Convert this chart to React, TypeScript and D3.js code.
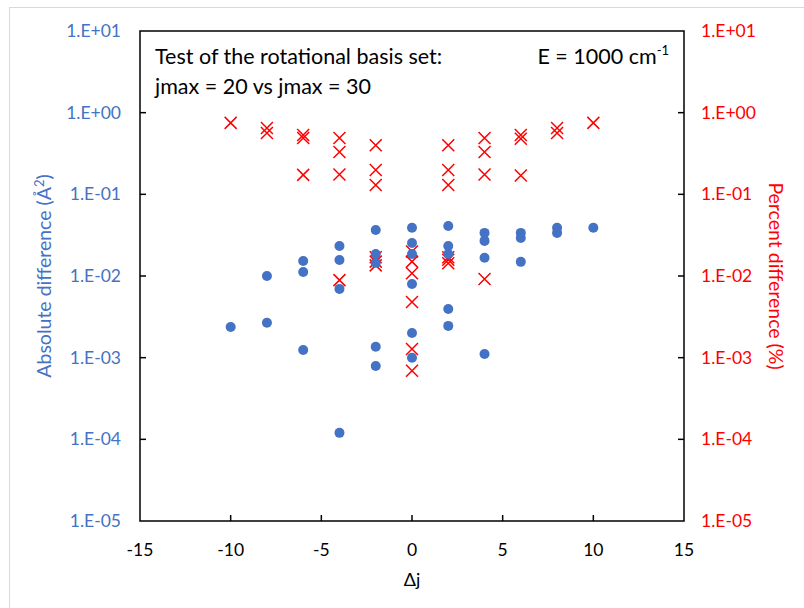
import React from 'react';
import * as d3 from 'd3';

// absolute difference (Å²) vs Δj
const absDj = [-10, -8, -8, -6, -6, -6, -4, -4, -4, -4, -2, -2, -2, -2, -2, 0, 0, 0, 0, 0, 0, 2, 2, 2, 2, 2, 4, 4, 4, 4, 6, 6, 6, 8, 8, 10];
const absValues = [2.38e-3, 1.0e-2, 2.67e-3, 1.53e-2, 1.12e-2, 1.24e-3, 2.33e-2, 1.57e-2, 6.95e-3, 1.2e-4, 3.66e-2, 1.86e-2, 1.45e-2, 1.36e-3, 7.9e-4, 3.9e-2, 2.54e-2, 1.86e-2, 8.0e-3, 2.0e-3, 1.0e-3, 4.1e-2, 2.33e-2, 1.86e-2, 3.95e-3, 2.45e-3, 3.37e-2, 2.69e-2, 1.67e-2, 1.11e-3, 3.37e-2, 2.92e-2, 1.49e-2, 3.9e-2, 3.37e-2, 3.9e-2];

// percent difference (%) vs Δj
const pctDj = [-10, -8, -8, -6, -6, -6, -4, -4, -4, -4, -2, -2, -2, -2, -2, -2, 0, 0, 0, 0, 0, 0, 2, 2, 2, 2, 2, 2, 4, 4, 4, 4, 6, 6, 6, 8, 8, 10];
const pctValues = [0.75, 0.65, 0.565, 0.533, 0.49, 0.173, 0.49, 0.33, 0.175, 8.9e-3, 0.4, 0.199, 0.13, 1.7e-2, 1.5e-2, 1.35e-2, 2.0e-2, 1.5e-2, 1.08e-2, 4.8e-3, 1.28e-3, 6.9e-4, 0.4, 0.199, 0.13, 1.7e-2, 1.58e-2, 1.43e-2, 0.49, 0.33, 0.175, 9.2e-3, 0.533, 0.48, 0.17, 0.65, 0.565, 0.75];

const xTicks = [-15, -10, -5, 0, 5, 10, 15];
const yTicks = [1e1, 1e0, 1e-1, 1e-2, 1e-3, 1e-4, 1e-5];
const yTickLabels = ['1.E+01', '1.E+00', '1.E-01', '1.E-02', '1.E-03', '1.E-04', '1.E-05'];

const BLUE = '#4472C4';
const RED = '#FF0000';
const FONT = 'Lato, "Open Sans", sans-serif';

const App = () => {
  const margin = { top: 31, right: 120, bottom: 87, left: 140 };
  const width = 804;
  const height = 608;

  const x = d3.scaleLinear().domain([-15, 15]).range([margin.left, width - margin.right]);
  const yAbs = d3.scaleLog().domain([1e-5, 10]).range([height - margin.bottom, margin.top]);
  const yPct = d3.scaleLog().domain([1e-5, 10]).range([height - margin.bottom, margin.top]);

  const x0 = x.range()[0];
  const x1 = x.range()[1];
  const yb = yAbs.range()[0];
  const yt = yAbs.range()[1];
  const tick = 6;
  const cs = 6; // cross half-size

  return (
    <svg width={width} height={height} style={{ display: 'block', position: 'absolute', left: 0, top: 0, fontFamily: FONT }}>
      <rect x={0} y={0} width={width} height={height} fill="#fff" />
      <rect x={9.5} y={7.5} width={900} height={700} fill="#fff" stroke="#d9d9d9" />

      {/* plot frame */}
      <rect x={x0} y={yt} width={x1 - x0} height={yb - yt} fill="none" stroke="#000" strokeWidth={1.5} />

      {/* x ticks */}
      {xTicks.map((t) => (
        <g key={'xt' + t}>
          {t > -15 && t < 15 && <line x1={x(t)} x2={x(t)} y1={yb} y2={yb - tick} stroke="#000" strokeWidth={1.5} />}
          <text x={x(t)} y={yb + 35} textAnchor="middle" fontSize={17.5} fill="#000">{t}</text>
        </g>
      ))}

      {/* y ticks */}
      {yTicks.map((t, i) => (
        <g key={'yt' + i}>
          {i > 0 && i < yTicks.length - 1 && (
            <>
              <line x1={x0} x2={x0 + tick} y1={yAbs(t)} y2={yAbs(t)} stroke="#000" strokeWidth={1.5} />
              <line x1={x1} x2={x1 - tick} y1={yPct(t)} y2={yPct(t)} stroke="#000" strokeWidth={1.5} />
            </>
          )}
          <text x={x0 - 19} y={yAbs(t)} dy="0.35em" textAnchor="end" fontSize={17.5} fill={BLUE}>{yTickLabels[i]}</text>
          <text x={x1 + 17} y={yPct(t)} dy="0.35em" textAnchor="start" fontSize={17.5} fill={RED}>{yTickLabels[i]}</text>
        </g>
      ))}

      {/* axis titles */}
      <text x={412} y={586} textAnchor="middle" fontSize={18} fill="#000">Δj</text>
      <text transform={`translate(51,${(yt + yb) / 2}) rotate(-90)`} textAnchor="middle" fontSize={19.5} fill={BLUE}>
        Absolute difference (Å<tspan dy={-7} fontSize={13}>2</tspan><tspan dy={7}>)</tspan>
      </text>
      <text transform={`translate(769,${(yt + yb) / 2}) rotate(90)`} textAnchor="middle" fontSize={19.5} fill={RED}>
        Percent difference (%)
      </text>

      {/* annotations */}
      <text x={155} y={64} fontSize={21.5} fill="#000">Test of the rotational basis set:</text>
      <text x={155} y={94} fontSize={21.5} fill="#000">jmax = 20 vs jmax = 30</text>
      <text x={669} y={64} textAnchor="end" fontSize={21.5} fill="#000">
        E = 1000 cm<tspan dy={-9} fontSize={13}>-1</tspan>
      </text>

      {/* percent difference crosses */}
      {pctDj.map((d, i) => {
        const cx = x(d);
        const cy = yPct(pctValues[i]);
        return (
          <path key={'p' + i} d={`M${cx - cs},${cy - cs}L${cx + cs},${cy + cs}M${cx - cs},${cy + cs}L${cx + cs},${cy - cs}`}
            stroke={RED} strokeWidth={1.5} fill="none" />
        );
      })}

      {/* absolute difference circles */}
      {absDj.map((d, i) => (
        <circle key={'a' + i} cx={x(d)} cy={yAbs(absValues[i])} r={5} fill={BLUE} />
      ))}
    </svg>
  );
};

export default App;
